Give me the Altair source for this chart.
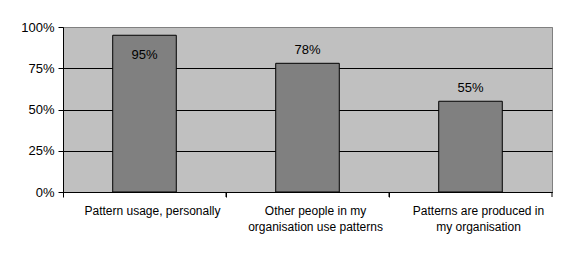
import altair as alt
import pandas as pd

categories = [
    "Pattern usage, personally",
    "Other people in my organisation use patterns",
    "Patterns are produced in my organisation",
]
values = [0.95, 0.78, 0.55]
label_lines = {
    "Pattern usage, personally": ["Pattern usage, personally"],
    "Other people in my organisation use patterns": ["Other people in my", "organisation use patterns"],
    "Patterns are produced in my organisation": ["Patterns are produced in", "my organisation"],
}
y_ticks = [0, 0.25, 0.5, 0.75, 1.0]

df = pd.DataFrame({"cat": categories, "value": values})

FONT = "Liberation Sans"

label_expr = " : ".join(
    [f"datum.label == '{k}' ? {v!r}" for k, v in label_lines.items()]
) + " : datum.label"

x_scale = alt.Scale(domain=categories, paddingInner=0, paddingOuter=0)
y_scale = alt.Scale(domain=[0, 1])

x_enc = alt.X(
    "cat:N",
    scale=x_scale,
    sort=categories,
    title=None,
    axis=alt.Axis(
        labelAngle=0,
        bandPosition=0,
        labelOffset=8,
        labelExpr=label_expr,
        labelFont=FONT,
        labelFontSize=12,
        labelColor="black",
        labelPadding=8,
        labelLineHeight=16,
        labelBaseline="top",
        domainColor="black",
        tickColor="black",
        tickSize=5,
        grid=False,
    ),
)

y_enc = alt.Y(
    "value:Q",
    scale=y_scale,
    title=None,
    axis=alt.Axis(
        values=y_ticks,
        format=".0%",
        labelFont=FONT,
        labelFontSize=13,
        labelColor="black",
        labelPadding=4,
        domainColor="black",
        tickColor="black",
        tickSize=5,
        grid=True,
        gridColor=alt.condition("datum.value == 1", alt.value("#808080"), alt.value("black")),
        gridOpacity=1,
    ),
)

base = alt.Chart(df)

bars = base.mark_bar(
    width={"band": 0.39}, color="#808080", stroke="black", strokeWidth=1
).encode(x=x_enc, y=y_enc)

end_ticks = base.mark_rule(color="black", strokeWidth=1).encode(
    x=alt.X("cat:N", scale=x_scale, sort=categories, bandPosition=1),
    y=alt.value(165),
    y2=alt.value(170),
)

text_style = dict(font=FONT, fontSize=13, color="black", baseline="middle", align="center")

labels_in = base.transform_filter("datum.value > 0.9").mark_text(dy=20, **text_style).encode(
    x=alt.X("cat:N", scale=x_scale, sort=categories),
    y=alt.Y("value:Q", scale=y_scale),
    text=alt.Text("value:Q", format=".0%"),
)
labels_out = base.transform_filter("datum.value <= 0.9").mark_text(dy=-13, **text_style).encode(
    x=alt.X("cat:N", scale=x_scale, sort=categories),
    y=alt.Y("value:Q", scale=y_scale),
    text=alt.Text("value:Q", format=".0%"),
)

chart = (
    alt.layer(bars, end_ticks, labels_in, labels_out)
    .properties(
        width=489,
        height=165,
        autosize=alt.AutoSizeParams(type="none"),
        padding={"left": 63, "top": 27, "right": 14, "bottom": 64},
        background="white",
    )
    .configure_view(fill="#C0C0C0", stroke="#808080", strokeWidth=1)
)

chart.save("out.html", embed_options={"renderer": "svg", "actions": False})
